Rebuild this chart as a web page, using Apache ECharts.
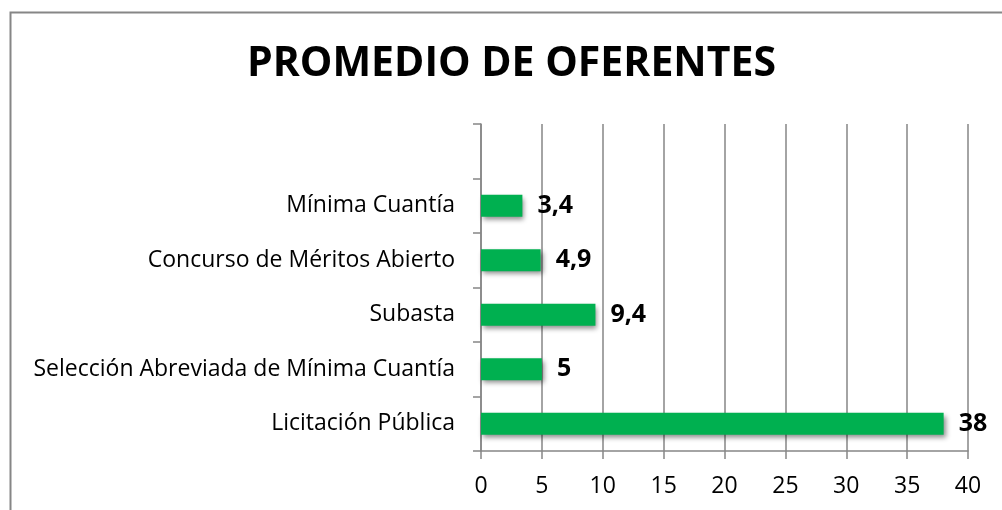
<!DOCTYPE html>
<html><head><meta charset="utf-8">
<script src="https://cdn.jsdelivr.net/npm/echarts@6/dist/echarts.min.js"></script>
<style>html,body{margin:0;padding:0;background:#fff}#c{width:1002px;height:510px}</style>
</head><body><div id="c"></div>
<script>
const titleText = 'PROMEDIO DE OFERENTES';
const categories = ['Licitación Pública', 'Selección Abreviada de Mínima Cuantía', 'Subasta', 'Concurso de Méritos Abierto', 'Mínima Cuantía', ''];
const values = [38, 5, 9.4, 4.9, 3.4, null];
const xTicks = [0, 5, 10, 15, 20, 25, 30, 35, 40];

const FONT = 'Open Sans';
const chart = echarts.init(document.getElementById('c'), null, {renderer: 'canvas'});
chart.setOption({
  animation: false,
  backgroundColor: '#fff',
  graphic: [{
    type: 'rect', shape: {x: 10.5, y: 12.5, width: 1100, height: 600},
    style: {fill: 'none', stroke: '#868686', lineWidth: 2}, silent: true
  }],
  title: {
    text: titleText, left: 247, top: 44, padding: 0,
    textStyle: {fontFamily: FONT, fontWeight: 'bold', fontSize: 41, color: '#000'}
  },
  grid: {left: 481, right: 34, top: 124, bottom: 59, containLabel: false},
  xAxis: {
    type: 'value', min: xTicks[0], max: xTicks[xTicks.length - 1], interval: 5,
    axisLine: {show: true, lineStyle: {color: '#868686', width: 1.5}},
    axisTick: {show: true, length: 8, lineStyle: {color: '#868686', width: 1.5}},
    splitLine: {show: true, lineStyle: {color: '#868686', width: 1.5}},
    axisLabel: {fontFamily: FONT, fontSize: 23, color: '#000', margin: 24}
  },
  yAxis: {
    type: 'category', data: categories,
    axisLine: {show: true, lineStyle: {color: '#868686', width: 1.5}},
    axisTick: {show: true, length: 8, lineStyle: {color: '#868686', width: 1.5}},
    axisLabel: {fontFamily: FONT, fontSize: 23, color: '#000', margin: 26}
  },
  series: [{
    type: 'bar', data: values, barWidth: 22,
    itemStyle: {color: '#00B050', shadowColor: 'rgba(0,0,0,0.45)', shadowBlur: 5, shadowOffsetX: 2, shadowOffsetY: 3},
    label: {
      show: true, position: 'right', distance: 15,
      fontFamily: FONT, fontWeight: 'bold', fontSize: 25, color: '#000',
      formatter: p => String(p.value).replace('.', ',')
    }
  }]
});
</script></body></html>
